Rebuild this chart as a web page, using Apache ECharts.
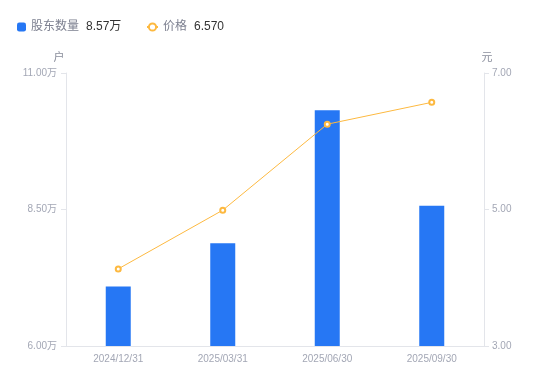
<!DOCTYPE html>
<html><head><meta charset="utf-8">
<script src="https://cdn.jsdelivr.net/npm/echarts@6/dist/echarts.min.js"></script>
<style>html,body{margin:0;padding:0;background:#fff}#c{width:550px;height:381px}</style>
</head><body><div id="c"></div>
<script>
const categories = ['2024/12/31', '2025/03/31', '2025/06/30', '2025/09/30'];
const holders = [70900, 78800, 103200, 85700];
const prices = [4.13, 4.99, 6.25, 6.57];
const leftTicks = [60000, 85000, 110000];
const rightTicks = [3, 5, 7];
const legendValues = {'股东数量': '8.57万', '价格': '6.570'};

const FF = '"Liberation Sans", "Noto Sans CJK SC", sans-serif';
const chart = echarts.init(document.getElementById('c'), null, {renderer: 'canvas'});
const labelColor = '#a3a7b5';
const axisLineColor = '#e3e5ea';
const legendText = {
  fontFamily: FF,
  rich: {
    a: {color: '#7d8090', fontSize: 12, fontFamily: FF, padding: [0, 7, 0, 0]},
    b: {color: '#333333', fontSize: 12, fontFamily: FF}
  }
};
chart.setOption({
  animation: false,
  textStyle: {fontFamily: FF},
  legend: [{
    left: 12, top: 16,
    itemWidth: 9, itemHeight: 9,
    data: [{name: '股东数量', icon: 'roundRect'}],
    formatter: n => `{a|${n}}{b|${legendValues[n]}}`,
    textStyle: legendText
  }, {
    left: 141, top: 16,
    itemWidth: 11, itemHeight: 9,
    data: [{name: '价格'}],
    formatter: n => `{a|${n}}{b|${legendValues[n]}}`,
    textStyle: legendText
  }],
  grid: {left: 66, right: 66, top: 73, bottom: 35},
  xAxis: {
    type: 'category', data: categories,
    axisLine: {lineStyle: {color: axisLineColor}},
    axisTick: {show: false},
    axisLabel: {color: labelColor, fontSize: 10, margin: 8, fontFamily: FF}
  },
  yAxis: [{
    type: 'value', name: '户', min: leftTicks[0], max: leftTicks[2], interval: 25000,
    nameTextStyle: {color: '#8a8e9c', fontSize: 11, padding: [0, 14, 0, 0]},
    nameGap: 10,
    axisLine: {show: true, lineStyle: {color: axisLineColor}},
    axisTick: {show: true, length: 5, lineStyle: {color: axisLineColor}},
    splitLine: {show: false},
    axisLabel: {color: labelColor, fontSize: 10, margin: 9, fontFamily: FF, formatter: v => (v / 10000).toFixed(2) + '万'}
  }, {
    type: 'value', name: '元', min: rightTicks[0], max: rightTicks[2], interval: 2,
    nameTextStyle: {color: '#8a8e9c', fontSize: 11, padding: [0, 0, 0, 6]},
    nameGap: 10,
    axisLine: {show: true, lineStyle: {color: axisLineColor}},
    axisTick: {show: true, length: 5, lineStyle: {color: axisLineColor}},
    splitLine: {show: false},
    axisLabel: {color: labelColor, fontSize: 10, margin: 8, fontFamily: FF, formatter: v => v.toFixed(2)}
  }],
  series: [{
    name: '股东数量', type: 'bar', data: holders, yAxisIndex: 0,
    barWidth: 25,
    itemStyle: {color: '#2677f4'}
  }, {
    name: '价格', type: 'line', data: prices, yAxisIndex: 1,
    symbol: 'emptyCircle', symbolSize: 5,
    lineStyle: {color: '#fdb940', width: 1},
    itemStyle: {color: '#fdb940', borderWidth: 2}
  }]
});
</script></body></html>
